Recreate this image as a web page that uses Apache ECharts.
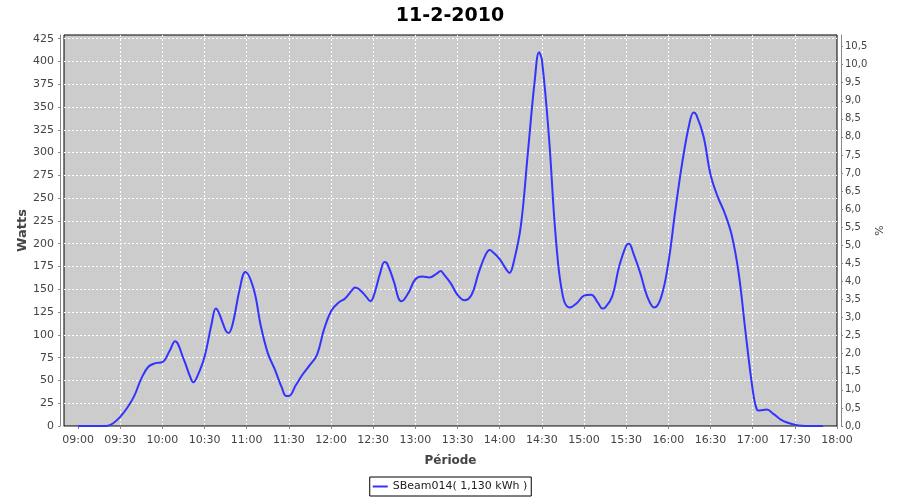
<!DOCTYPE html>
<html>
<head>
<meta charset="utf-8">
<script src="https://cdn.jsdelivr.net/npm/echarts@6/dist/echarts.min.js"></script>
<style>html,body{margin:0;padding:0;background:#fff}#c{width:900px;height:500px}</style>
</head>
<body>
<div id="c"></div>
<script>
// ---- data ----
const times = ["09:00","09:10","09:20","09:25","09:30","09:35","09:40","09:45","09:50","09:55",
  "10:00","10:05","10:09","10:15","10:20","10:22","10:25","10:30","10:35","10:38","10:40","10:45","10:47","10:50","10:55","10:59",
  "11:05","11:10","11:15","11:20","11:25","11:28","11:30","11:35","11:40","11:45","11:50","11:55",
  "12:00","12:05","12:10","12:15","12:17","12:20","12:25","12:28","12:30","12:35","12:38","12:40","12:45","12:48","12:50","12:55",
  "13:00","13:05","13:10","13:15","13:18","13:20","13:25","13:30","13:35","13:40","13:45","13:50","13:53","13:55",
  "14:00","14:05","14:07","14:10","14:15","14:20","14:25","14:28","14:30","14:35","14:40","14:45","14:50","14:55",
  "15:00","15:05","15:10","15:13","15:15","15:20","15:25","15:30","15:32","15:35","15:40","15:45","15:50","15:55",
  "16:00","16:05","16:10","16:15","16:18","16:20","16:25","16:30","16:35","16:40","16:45","16:50","16:55",
  "17:00","17:03","17:05","17:10","17:15","17:20","17:25","17:30","17:35","17:40","17:50"];
const watts = [0,0,0,3,10,20,33,52,65,69,
  70,82,93,74,53,48,55,76,112,129,125,105,102,112,150,169,
  150,110,80,62,42,33,33,45,57,67,78,106,
  126,135,140,149,152,150,142,137,141,168,180,178,157,140,137,146,
  161,164,163,167,170,167,157,144,138,144,168,188,193,191,
  183,171,168,180,219,299,380,410,402,318,205,142,130,135,
  143,144,135,129,130,142,175,198,200,190,168,142,130,142,
  179,237,290,332,344,341,318,276,252,234,210,168,102,
  40,18,17,18,13,7,3.6,1.5,0.3,0,0];
const timeTicks = ["09:00","09:30","10:00","10:30","11:00","11:30","12:00","12:30","13:00","13:30",
  "14:00","14:30","15:00","15:30","16:00","16:30","17:00","17:30","18:00"];
const seriesName = "SBeam014( 1,130 kWh )";
const titleText = "11-2-2010";

function toMin(s){const p=s.split(':');return (+p[0])*60+(+p[1]);}
function fmt(m){const h=Math.floor(m/60),mm=Math.round(m%60);return (h<10?'0':'')+h+':'+(mm<10?'0':'')+mm;}
const tickVals = timeTicks.map(toMin);
const lineData = times.map((t,i)=>[toMin(t), watts[i]]);

const FONT = 'DejaVu Sans';
const labelColor = '#444';
const axisGray = '#888';
const gridLine = {show:true,showMinLine:false,showMaxLine:false,lineStyle:{color:'#fff',type:[2,2],width:1}};

const chart = echarts.init(document.getElementById('c'), null, {renderer:'canvas'});
chart.setOption({
  animation:false,
  backgroundColor:'#fff',
  title:{text:titleText,left:'center',top:2,textStyle:{fontFamily:FONT,fontWeight:'bold',fontSize:19,color:'#000'}},
  grid:{left:64,right:63,top:35,bottom:74,show:true,backgroundColor:'#cccccc',borderColor:'#000',borderWidth:1,containLabel:false},
  legend:{
    data:[seriesName],left:'center',top:477,icon:'rect',itemWidth:15,itemHeight:2,
    borderColor:'#000',borderWidth:1,borderRadius:0,padding:[4,4,4,3],
    textStyle:{fontFamily:FONT,fontSize:11,color:'#222'}
  },
  xAxis:{
    type:'value',min:530,max:1080,offset:4,
    name:'Période',nameLocation:'middle',nameGap:25,nameMoveOverlap:false,
    nameTextStyle:{fontFamily:FONT,fontWeight:'bold',fontSize:12,color:labelColor},
    axisLine:{show:true,lineStyle:{color:axisGray}},
    axisTick:{show:true,length:3,customValues:tickVals,lineStyle:{color:axisGray}},
    axisLabel:{customValues:tickVals,margin:5,fontFamily:FONT,fontSize:11,color:labelColor,formatter:v=>fmt(v)},
    splitLine:gridLine
  },
  yAxis:[{
    type:'value',position:'left',min:0,max:429,interval:25,offset:4,
    name:'Watts',nameLocation:'middle',nameGap:31,nameMoveOverlap:false,
    nameTextStyle:{fontFamily:FONT,fontWeight:'bold',fontSize:13,color:labelColor},
    axisLine:{show:true,lineStyle:{color:axisGray}},
    axisTick:{show:true,length:2,lineStyle:{color:axisGray}},
    axisLabel:{margin:6,fontFamily:FONT,fontSize:11,color:labelColor,showMaxLabel:false,
      formatter:v=>(v%25===0?String(v):'')},
    splitLine:gridLine
  },{
    type:'value',position:'right',min:0,max:10.82,interval:0.5,offset:4,alignTicks:false,
    name:'%',nameLocation:'middle',nameGap:34,nameMoveOverlap:false,
    nameTextStyle:{fontFamily:FONT,fontSize:11,color:labelColor},
    axisLine:{show:true,lineStyle:{color:axisGray}},
    axisTick:{show:true,length:2,lineStyle:{color:axisGray}},
    axisLabel:{margin:4,fontFamily:FONT,fontSize:10,color:labelColor,showMaxLabel:false,
      formatter:v=>(Math.abs(v*2-Math.round(v*2))<1e-6?v.toFixed(1).replace('.',','):'')},
    splitLine:{show:false}
  }],
  series:[{
    name:seriesName,type:'line',yAxisIndex:0,data:lineData,
    showSymbol:false,smooth:0.4,
    lineStyle:{color:'#3333ff',width:2},itemStyle:{color:'#3333ff'}
  }]
});
</script>
</body>
</html>
